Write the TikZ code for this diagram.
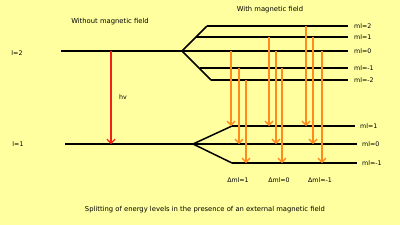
\documentclass[tikz,border=0pt]{standalone}
\usepackage{fontspec}
\setmainfont{DejaVu Sans}
\usepackage{tikz}
\usetikzlibrary{arrows.meta, positioning, calc}
\definecolor{paper}{HTML}{FFFFA0}
\definecolor{photonred}{HTML}{F0201A}
\definecolor{zeemanorange}{HTML}{FF8A1E}
\tikzset{
  % Energy levels
  level/.style={draw=black, line width=1.5pt},
  % Transitions
  transition/.style={-{Straight Barb[length=4pt, width=8pt]}, line width=1.4pt, draw=#1},
  transition/.default={zeemanorange},
  % Texts
  lvllabel/.style={font=\fontsize{6.3}{7.5}\selectfont, text=black, inner sep=0pt},
  headline/.style={font=\fontsize{6.8}{8}\selectfont, text=black, inner sep=0pt},
}

\begin{document}
\begin{tikzpicture}[x=1pt, y=-1pt]

  % Paper
  \fill[paper] (0,0) rectangle (400,225);
  \useasboundingbox (0,0) rectangle (400,225);

  % Titles
  \node[headline] (notitle) at (110,22) {Without magnetic field};
  \node[headline] (wtitle) at (270,10) {With magnetic field};
  \node[headline] (caption) at (205,210) {Splitting of energy levels in the presence of an external magnetic field};

  % l=2 level and its splitting
  \coordinate (ltwoa) at (61,51);
  \coordinate (ltwob) at (182,51);
  \node[lvllabel] (ltwo) at (17,53) {l=2};
  \draw[level] (ltwoa) -- (ltwob);
  \foreach \name/\xs/\y/\txt in {up2/207/26/ml=2, up1/196/37/ml=1, up0/182/51/ml=0,
                                 upm1/200/68/ml=-1, upm2/211/80/ml=-2} {
    \coordinate (\name) at (\xs,\y);
    \coordinate (\name e) at (348,\y);
    \draw[level] (\name) -- (\name e);
    \node[lvllabel, anchor=west] (\name lbl) at (354,\y) {\txt};
  }
  \draw[level] (up2) -- (ltwob) -- (upm2);

  % l=1 level and its splitting
  \coordinate (lonea) at (65,144);
  \coordinate (loneb) at (193,144);
  \node[lvllabel] (lone) at (18,144) {l=1};
  \draw[level] (lonea) -- (loneb);
  \foreach \name/\xs/\xe/\y/\txt in {lo1/232/355/126/ml=1, lo0/193/357/144/ml=0, lom1/232/357/163/ml=-1} {
    \coordinate (\name) at (\xs,\y);
    \coordinate (\name e) at (\xe,\y);
    \draw[level] (\name) -- (\name e);
    \node[lvllabel, anchor=west] (\name lbl) at ($(\name e)+(5,0)$) {\txt};
  }
  \draw[level] (lo1) -- (loneb) -- (lom1);

  % Photon without field
  \coordinate (hvtop) at (111,51);
  \draw[transition=photonred, line width=1.2pt] (hvtop) -- (hvtop |- lonea);
  \node[lvllabel] (hv) at (123,97) {hv};

  % Zeeman transitions
  \foreach \xx/\from/\to in {231/up0/lo1, 239/upm1/lo0, 246/upm2/lom1,
                             269/up1/lo1, 276/up0/lo0, 282/upm1/lom1,
                             306/up2/lo1, 313/up1/lo0, 322/up0/lom1} {
    \coordinate (t) at (\xx,0);
    \draw[transition] (t |- \from) -- (t |- \to);
  }

  % Selection rules
  \node[lvllabel] (dml1) at (238,180) {Δml=1};
  \node[lvllabel] (dml0) at (279,180) {Δml=0};
  \node[lvllabel] (dmlm1) at (320,180) {Δml=-1};

\end{tikzpicture}
\end{document}
